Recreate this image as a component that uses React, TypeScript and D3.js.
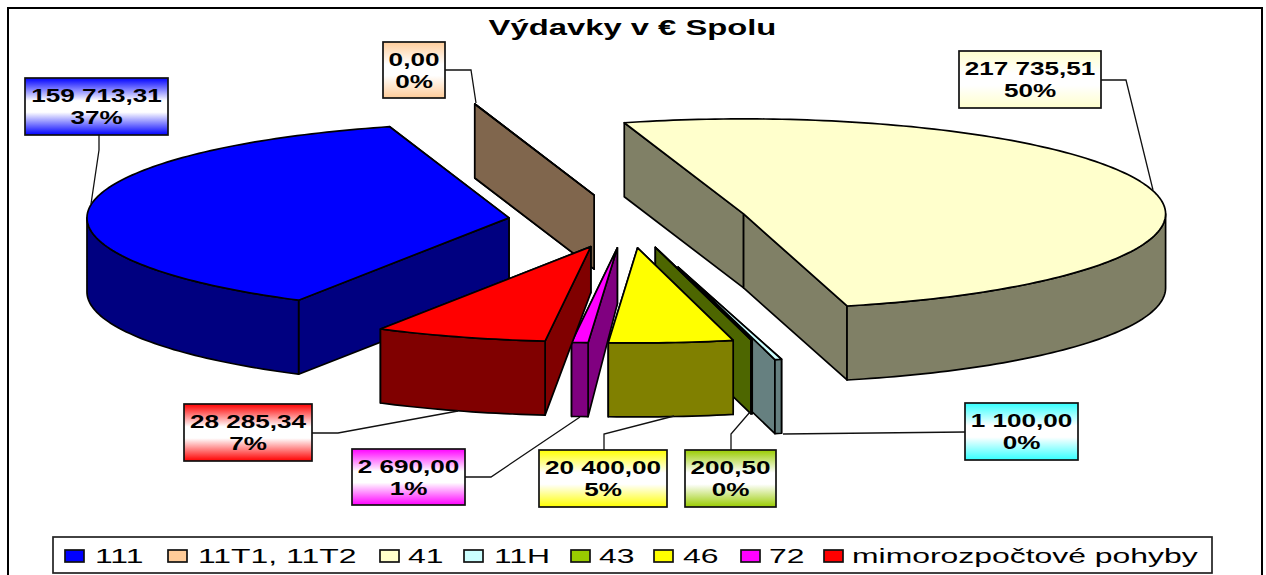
import { arc, formatLocale, line, pie, range, rgb } from "d3";

const categories = ["111", "11T1, 11T2", "41", "11H", "43", "46", "72", "mimorozpočtové pohyby"];
const amounts = [159713.31, 0, 217735.51, 1100, 200.5, 20400, 2690, 28285.34];
const percentLabels = ["37%", "0%", "50%", "0%", "0%", "5%", "1%", "7%"];
const colors = ["#0000FF", "#FFCC99", "#FFFFCC", "#CCFFFF", "#99CC00", "#FFFF00", "#FF00FF", "#FF0000"];
const labelColors = ["#0000FF", "#FFCC99", "#FFFFCC", "#33FFFF", "#99CC00", "#FFFF00", "#FF00FF", "#FF0000"];
// how far each slice is pulled out of the pie, 11H sticks out more than the rest
const explosion = [0.284, 0.284, 0.284, 0.5, 0.284, 0.284, 0.284, 0.284];

const width = 1266;
const height = 575;
const cx = 628;
const cy = 221;
const rx = 422;
const ry = 95;
const depth = 74;
// the red and magenta inner faces are cut short at the apex in the source
const apexDepth = [depth, depth, depth, depth, depth, depth, 56, 46];
const startAngle = (209.9 * Math.PI) / 180;

// back to front
const drawOrder = [1, 2, 0, 3, 4, 5, 6, 7];

// label box [x, y, w, h], then the leader line
const labelBoxes = [
  [25, 78, 143, 57],
  [383, 42, 62, 56],
  [959, 51, 142, 57],
  [965, 403, 113, 57],
  [685, 450, 91, 57],
  [539, 450, 128, 57],
  [352, 449, 113, 56],
  [184, 404, 128, 57],
];
const leaders = [
  [[99, 135], [99, 150], [91, 204]],
  [[445, 70], [471, 70], [476, 103]],
  [[1101, 80], [1126, 80], [1153, 190]],
  [[965, 432], [783, 434]],
  [[731, 450], [731, 434], [750, 412]],
  [[604, 450], [604, 434], [674, 416]],
  [[465, 477], [491, 477], [580, 417]],
  [[312, 433], [338, 433], [458, 411]],
];
const legendX = [65, 168, 380, 464, 571, 654, 741, 824];
const legendTextX = [95, 198, 408, 494, 599, 683, 769, 852];

const locale = formatLocale({ decimal: ",", thousands: " ", grouping: [3], currency: ["", ""] });
const formatValue = locale.format(",.2f");

const slices = pie<number>()
  .sort(null)
  .value((d) => d)
  .startAngle(startAngle)
  .endAngle(startAngle + 2 * Math.PI)(amounts);

const toPath = line();

function sampleArc(ax: number, ay: number, a0: number, a1: number) {
  const steps = Math.max(1, Math.ceil(Math.abs(a1 - a0) / 0.02));
  return range(steps + 1).map((i) => {
    const a = a0 + ((a1 - a0) * i) / steps;
    return [ax + rx * Math.sin(a), ay - ry * Math.cos(a)] as [number, number];
  });
}

function sliceShapes(i: number) {
  const s = slices[i];
  const mid = (s.startAngle + s.endAngle) / 2;
  // apex moves along the middle of the slice, d3.arc gives that point on the unit circle
  const [ux, uy] = arc().centroid({
    innerRadius: explosion[i],
    outerRadius: explosion[i],
    startAngle: mid,
    endAngle: mid,
  } as any);
  const ax = cx + ux * rx;
  const ay = cy + uy * ry;

  const top = toPath([[ax, ay], ...sampleArc(ax, ay, s.startAngle, s.endAngle)]) + "Z";

  // far face first, so the near one hides what pokes out below it
  const faces = [s.startAngle, s.endAngle]
    .sort((a, b) => -Math.cos(a) + Math.cos(b))
    .map((a) => {
      const [ox, oy] = sampleArc(ax, ay, a, a)[0];
      return (
        toPath([
          [ax, ay],
          [ox, oy],
          [ox, oy + depth],
          [ax, ay + apexDepth[i]],
        ]) + "Z"
      );
    });

  // only the near half of the rim can be seen
  const walls: string[] = [];
  for (const k of [0, 1]) {
    const lo = Math.max(s.startAngle, Math.PI / 2 + k * 2 * Math.PI);
    const hi = Math.min(s.endAngle, (3 * Math.PI) / 2 + k * 2 * Math.PI);
    if (hi > lo) {
      const rim = sampleArc(ax, ay, lo, hi);
      const under = rim.map(([x, y]) => [x, y + depth] as [number, number]).reverse();
      walls.push(toPath([...rim, ...under]) + "Z");
    }
  }
  return { top, faces, walls };
}

function darkSide(color: string) {
  const c = rgb(color);
  return rgb(c.r * 0.5, c.g * 0.5, c.b * 0.5).formatHex();
}

// the source image is wider than it should be, the text too
function WideText({ x, y, size, bold, anchor, stretch, children }: any) {
  return (
    <text
      transform={`translate(${x},${y}) scale(${stretch},1)`}
      fontFamily="'Liberation Sans', Arial, sans-serif"
      fontSize={size}
      fontWeight={bold ? "bold" : "normal"}
      textAnchor={anchor || "start"}
      fill="#000"
    >
      {children}
    </text>
  );
}

export default function App() {
  return (
    <svg
      width={width}
      height={height}
      viewBox={`0 0 ${width} ${height}`}
      style={{ position: "absolute", left: 0, top: 0, background: "#fff" }}
    >
      <defs>
        {labelColors.map((c, i) => (
          <linearGradient key={i} id={`label-${i}`} x1="0" y1="0" x2="0" y2="1">
            <stop offset="0" stopColor={c} />
            <stop offset="0.4" stopColor="#fff" />
            <stop offset="0.6" stopColor="#fff" />
            <stop offset="1" stopColor={c} />
          </linearGradient>
        ))}
      </defs>

      <rect x={8} y={8} width={1254} height={580} fill="#fff" stroke="#000" strokeWidth={2} />

      <WideText x={632.5} y={35} size={22} bold anchor="middle" stretch={1.49}>
        Výdavky v € Spolu
      </WideText>

      {drawOrder.map((i) => {
        const { top, faces, walls } = sliceShapes(i);
        const side = darkSide(colors[i]);
        return (
          <g key={i} stroke="#000" strokeWidth={1.7} strokeLinejoin="round">
            {faces.map((d, k) => (
              <path key={k} d={d} fill={side} />
            ))}
            {walls.map((d, k) => (
              <path key={k} d={d} fill={side} />
            ))}
            <path d={top} fill={colors[i]} />
          </g>
        );
      })}

      {leaders.map((pts, i) => (
        <path key={i} d={toPath(pts as [number, number][]) as string} fill="none" stroke="#111" strokeWidth={1.3} />
      ))}

      {labelBoxes.map(([x, y, w, h], i) => (
        <g key={i}>
          <rect x={x} y={y} width={w} height={h} fill={`url(#label-${i})`} stroke="#111" strokeWidth={1.7} />
          <WideText x={x + w / 2} y={y + 23.5} size={18} bold anchor="middle" stretch={1.45}>
            {formatValue(amounts[i])}
          </WideText>
          <WideText x={x + w / 2} y={y + 46} size={18} bold anchor="middle" stretch={1.45}>
            {percentLabels[i]}
          </WideText>
        </g>
      ))}

      <rect x={53} y={537} width={1159} height={36} fill="#fff" stroke="#222" strokeWidth={1.7} />
      {categories.map((name, i) => (
        <g key={name}>
          <rect x={legendX[i]} y={550} width={19} height={12} fill={colors[i]} stroke="#111" strokeWidth={1.7} />
          <WideText x={legendTextX[i]} y={563} size={21} stretch={1.52}>
            {name}
          </WideText>
        </g>
      ))}
    </svg>
  );
}
